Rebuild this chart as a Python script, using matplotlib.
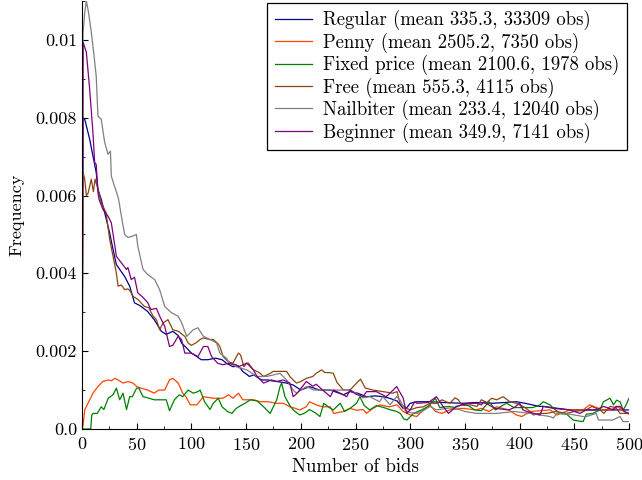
import matplotlib
matplotlib.use("Agg")
import matplotlib.pyplot as plt
from matplotlib.ticker import FixedLocator, MultipleLocator

plt.rcParams['font.family'] = 'serif'
plt.rcParams['font.serif'] = ['cmr10', 'DejaVu Serif']
plt.rcParams['mathtext.fontset'] = 'cm'
plt.rcParams['axes.formatter.use_mathtext'] = True

# Values in units of 1e-3 (frequency)
reg_x = [0, 1, 2.5, 5.5, 7, 10, 13, 14.6, 17.6, 20.7, 25.3, 28.4, 31.4, 34.5, 39, 43.6, 48, 51, 54, 60, 66, 72.5, 77, 83, 88, 91, 95, 100, 104, 109, 115, 122, 128, 132, 138, 143, 147, 153, 157, 164, 170, 173, 178, 187, 193, 200, 208, 217, 227, 239, 245, 252, 260, 268, 275, 281, 288, 293.5, 297, 300, 306, 318, 330, 348, 360, 375, 397, 405, 418, 422, 435, 446, 460, 480, 500]
reg_y = [0, 8.0, 7.96, 7.62, 7.45, 7.02, 6.59, 6.16, 5.9, 5.56, 5.04, 4.61, 4.23, 4.10, 3.92, 3.67, 3.24, 3.20, 3.15, 3.02, 2.81, 2.51, 2.43, 2.51, 2.40, 2.21, 2.10, 1.95, 1.88, 1.78, 1.78, 1.82, 1.78, 1.69, 1.60, 1.62, 1.48, 1.35, 1.39, 1.26, 1.26, 1.24, 1.22, 1.18, 1.13, 1.00, 1.09, 1.00, 1.00, 0.88, 0.96, 0.92, 0.83, 0.85, 0.83, 0.79, 0.72, 0.53, 0.55, 0.66, 0.70, 0.70, 0.68, 0.66, 0.68, 0.66, 0.70, 0.66, 0.58, 0.58, 0.53, 0.49, 0.49, 0.49, 0.49]

pen_x = [0, 1, 2.5, 5.5, 10, 14.6, 19, 24, 27, 30, 33, 37.5, 42, 46.6, 50, 54, 60, 66, 70, 75.6, 80, 83, 88, 92, 95, 99, 105, 111, 120, 129, 134, 138, 143, 147, 157, 163, 170, 178, 184, 190, 195, 199, 205, 208, 214, 220, 227, 230, 239, 245, 251, 257, 260, 266, 272, 281, 288, 293.5, 300, 306, 312, 318, 323, 329, 336, 348, 360, 365, 372, 379, 390, 397, 402, 410, 428, 434, 446, 458, 464, 476, 483, 490, 495, 500]
pen_y = [0, 0.10, 0.49, 0.66, 0.92, 1.09, 1.22, 1.26, 1.24, 1.30, 1.26, 1.18, 1.22, 1.18, 1.09, 1.05, 1.00, 0.92, 1.00, 1.00, 1.26, 1.30, 1.18, 0.92, 0.83, 0.62, 0.62, 0.83, 0.79, 0.79, 0.88, 0.79, 0.92, 0.75, 0.75, 0.70, 0.70, 0.66, 0.66, 0.57, 0.53, 0.49, 0.57, 0.70, 0.62, 0.57, 0.57, 0.40, 0.45, 0.53, 0.48, 0.50, 0.40, 0.53, 0.62, 0.57, 0.62, 0.45, 0.36, 0.32, 0.49, 0.62, 0.45, 0.40, 0.49, 0.53, 0.49, 0.53, 0.45, 0.57, 0.49, 0.36, 0.32, 0.45, 0.49, 0.36, 0.49, 0.49, 0.62, 0.49, 0.49, 0.57, 0.45, 0.38]

fix_x = [0, 8, 8.9, 10, 14, 17.6, 20, 24, 28.4, 31.4, 34.5, 37.5, 40.7, 43.6, 46, 50, 52, 55.8, 60, 66, 72.5, 77, 80, 84.5, 89, 92, 97, 101.7, 106, 108, 112, 117, 120, 124.6, 128, 133, 137, 141, 145, 149, 154, 160, 166, 172, 178, 181, 182.5, 185.5, 190, 193, 199, 203, 208, 214, 217.5, 221, 226, 229.7, 236, 240, 245, 251, 254, 258, 263, 269, 276, 281, 287.6, 291, 294, 297, 303, 310.5, 316.6, 323, 327, 335, 341, 347, 353, 359, 365, 372, 378, 384, 388, 395, 405, 412, 418.6, 421.7, 427.8, 431, 437, 443, 449, 455, 458, 461, 467, 473.5, 476.6, 482.6, 485.8, 488.6, 491.8, 494.6, 497, 500]
fix_y = [0, 0, 0.35, 0.40, 0.40, 0.57, 0.50, 0.79, 0.88, 1.05, 0.75, 0.92, 0.50, 0.83, 0.83, 1.05, 1.05, 0.83, 0.80, 0.75, 0.75, 0.75, 0.47, 0.75, 0.88, 0.83, 1.00, 0.92, 0.96, 1.00, 0.70, 0.50, 0.66, 0.79, 0.57, 0.45, 0.40, 0.53, 0.60, 0.66, 0.75, 0.72, 0.57, 0.40, 0.75, 1.09, 1.18, 0.83, 0.60, 0.49, 0.36, 0.40, 0.50, 0.40, 0.32, 0.66, 0.55, 0.49, 0.66, 0.45, 0.53, 0.66, 0.83, 0.60, 0.49, 0.60, 0.55, 0.50, 0.45, 0.40, 0.26, 0.23, 0.40, 0.49, 0.58, 0.79, 0.55, 0.58, 0.55, 0.62, 0.60, 0.49, 0.47, 0.70, 0.49, 0.60, 0.66, 0.55, 0.55, 0.55, 0.62, 0.70, 0.62, 0.53, 0.40, 0.38, 0.23, 0.20, 0.19, 0.38, 0.40, 0.49, 0.70, 0.79, 0.62, 0.74, 0.70, 0.49, 0.60, 0.79]

free_x = [0, 1, 2.5, 4, 5.5, 8.5, 10.4, 12, 14.6, 16, 17.6, 22, 25.3, 28.4, 31.4, 33, 36, 39, 42, 44, 46.6, 51, 57, 61, 65, 68, 71, 74, 78.6, 83, 88, 94, 97, 100, 104, 108, 111, 116, 120, 124, 126, 129, 133.6, 138, 141, 143, 145, 148, 150.5, 156.6, 162, 166, 170, 175, 181, 187, 190, 193, 196, 200, 205, 211, 214, 219, 222, 226, 229.7, 233, 239, 245, 251, 254.6, 259, 266, 275, 284, 288, 290.6, 296.7, 300, 306, 312, 318, 325, 329, 336, 341, 344, 347, 355, 361, 365, 370, 374.5, 379, 385, 391, 397, 400, 405, 409.5, 412.5, 418, 424.7, 433, 443, 450, 461, 466, 473.5, 477, 482.6, 488, 491.8, 500]
free_y = [0, 6.59, 6.42, 6.00, 6.05, 6.42, 6.10, 6.42, 6.16, 6.00, 5.82, 5.56, 4.87, 4.44, 4.01, 3.67, 3.70, 3.58, 3.60, 3.55, 3.41, 3.33, 3.15, 3.12, 2.90, 2.81, 2.55, 2.72, 2.81, 2.55, 2.51, 2.38, 2.21, 2.15, 2.21, 2.30, 2.34, 2.30, 2.30, 2.20, 2.12, 1.86, 1.73, 1.69, 1.85, 1.95, 1.90, 1.60, 1.69, 1.52, 1.45, 1.35, 1.40, 1.48, 1.48, 1.48, 1.35, 1.26, 1.18, 1.22, 1.30, 1.35, 1.43, 1.52, 1.45, 1.45, 1.43, 1.20, 1.00, 1.00, 1.18, 1.28, 1.05, 1.00, 0.96, 0.92, 0.96, 0.66, 0.53, 0.49, 0.55, 0.57, 0.66, 0.66, 0.75, 0.66, 0.80, 0.75, 0.62, 0.62, 0.58, 0.75, 0.68, 0.79, 0.75, 0.83, 0.70, 0.66, 0.62, 0.55, 0.45, 0.36, 0.40, 0.40, 0.45, 0.40, 0.45, 0.49, 0.58, 0.49, 0.40, 0.58, 0.55, 0.40, 0.40]

nail_x = [0, 1, 2.5, 4, 6, 8.5, 11, 13, 14.6, 17.6, 20.7, 23.8, 26, 26.8, 29, 31.4, 33.5, 36, 39, 42, 46.6, 49.7, 51, 55.8, 60, 66.4, 71, 75.6, 81.6, 87.8, 90.8, 95.7, 101.7, 106, 111, 117, 123, 126, 132, 135, 141, 150.5, 160, 169, 175, 181, 187, 193, 196, 205, 212, 220, 228, 238.6, 245, 252, 257, 263, 272, 275, 281.5, 287.6, 290.6, 295, 300, 306, 312, 318, 324, 336, 345, 350, 360.8, 379, 395, 409.5, 418.6, 427.8, 430.8, 434, 446, 458, 461, 470, 472, 479.6, 485, 491.8, 494.6, 500]
nail_y = [0, 10.2, 10.7, 11.0, 10.7, 10.2, 9.6, 9.07, 8.04, 7.96, 7.37, 7.06, 7.14, 6.5, 6.3, 6.1, 5.9, 5.47, 5.00, 4.92, 4.96, 5.00, 4.70, 4.10, 3.97, 3.84, 3.58, 3.15, 2.99, 2.90, 2.75, 2.38, 2.55, 2.60, 2.38, 2.30, 2.21, 1.95, 1.82, 1.69, 1.60, 1.52, 1.35, 1.35, 1.39, 1.43, 1.26, 1.00, 0.92, 1.09, 1.00, 1.00, 1.00, 1.00, 1.00, 0.90, 0.80, 0.83, 0.70, 0.83, 0.62, 0.83, 0.75, 0.49, 0.42, 0.40, 0.47, 0.58, 0.49, 0.54, 0.50, 0.45, 0.40, 0.40, 0.45, 0.40, 0.36, 0.32, 0.28, 0.40, 0.38, 0.32, 0.32, 0.40, 0.23, 0.23, 0.23, 0.32, 0.19, 0.19]

beg_x = [0, 1, 4, 7, 10, 11.6, 13, 14.6, 15.6, 19.2, 23.8, 26.8, 29, 31.4, 36, 40.6, 42, 45, 48, 51, 55.8, 60, 63, 68, 71, 75.6, 80, 83, 87.8, 91, 94, 100, 106, 111, 115, 118.5, 124, 129, 134, 141, 143, 150.5, 152, 156.6, 160, 166, 173, 178, 184, 190, 193, 196, 199, 205, 211, 214, 220, 227, 230, 236, 242, 245, 250, 257, 260, 269, 278, 281.5, 287.6, 293.5, 296.7, 300, 304, 306, 316.6, 324, 329, 335, 342, 353, 361, 365, 367, 377.5, 390, 395, 400, 403, 406.5, 418.6, 421.7, 430.8, 446, 455, 461, 470, 476.6, 485.8, 488, 491.8, 496, 500]
beg_y = [0, 9.94, 9.68, 8.74, 7.62, 6.85, 6.80, 6.07, 5.9, 5.64, 5.47, 5.30, 4.90, 4.44, 4.27, 4.10, 4.15, 3.84, 3.90, 3.50, 3.38, 3.25, 3.07, 3.10, 2.90, 2.64, 2.12, 2.15, 2.38, 2.30, 1.95, 1.95, 1.86, 2.12, 2.12, 1.86, 1.69, 1.65, 1.69, 1.65, 1.60, 1.69, 1.69, 1.52, 1.35, 1.18, 1.26, 1.22, 1.26, 1.18, 0.83, 0.90, 1.00, 1.22, 1.10, 1.15, 1.00, 0.83, 1.00, 0.92, 0.83, 1.00, 0.90, 0.83, 0.96, 0.96, 0.83, 0.92, 1.09, 0.80, 0.40, 0.49, 0.70, 0.66, 0.68, 0.83, 0.62, 0.40, 0.58, 0.66, 0.66, 0.62, 0.69, 0.53, 0.49, 0.55, 0.66, 0.49, 0.45, 0.36, 0.58, 0.53, 0.49, 0.40, 0.49, 0.49, 0.58, 0.49, 0.58, 0.58, 0.45, 0.40]

labels = ["Regular (mean 335.3, 33309 obs)",
          "Penny (mean 2505.2, 7350 obs)",
          "Fixed price (mean 2100.6, 1978 obs)",
          "Free (mean 555.3, 4115 obs)",
          "Nailbiter (mean 233.4, 12040 obs)",
          "Beginner (mean 349.9, 7141 obs)"]
colors = ["#00008B", "#FF4500", "#008000", "#8B4513", "#808080", "#800080"]

xticks = [0, 50, 100, 150, 200, 250, 300, 350, 400, 450, 500]
yticks = [0.0, 0.002, 0.004, 0.006, 0.008, 0.01]
ytick_labels = ["0.0", "0.002", "0.004", "0.006", "0.008", "0.01"]

fig = plt.figure(figsize=(6.42, 4.80), dpi=100)
ax = fig.add_axes([0.1277, 0.1063, 0.8521, 0.8917])

series = [(reg_x, reg_y), (pen_x, pen_y), (fix_x, fix_y), (free_x, free_y), (nail_x, nail_y), (beg_x, beg_y)]
for (xs, ys), lab, col in zip(series, labels, colors):
    ax.plot(xs, [v * 1e-3 for v in ys], color=col, lw=0.9, label=lab)

ax.set_xlim(0, 500)
ax.set_ylim(0, 0.0110)
ax.xaxis.set_major_locator(FixedLocator(xticks))
ax.xaxis.set_minor_locator(MultipleLocator(25))
ax.set_yticks(yticks)
ax.set_yticklabels(ytick_labels)
ax.yaxis.set_minor_locator(MultipleLocator(0.001))
ax.tick_params(which='both', direction='in', labelsize=13)
ax.tick_params(which='major', length=4)
ax.tick_params(which='minor', length=2)
ax.tick_params(axis='x', pad=5)
for s in ['top', 'right']:
    ax.spines[s].set_visible(False)

ax.set_xlabel("Number of bids", fontsize=13.5, labelpad=4)
ax.set_ylabel("Frequency", fontsize=13, labelpad=8)

leg = ax.legend(loc='upper right', fontsize=13.5, frameon=True, fancybox=False,
                edgecolor='black', framealpha=1, handlelength=2.0,
                handletextpad=0.6, borderaxespad=0.1, labelspacing=0.12,
                borderpad=0.4)
leg.get_frame().set_linewidth(0.9)

fig.savefig("out.png", dpi=100)
